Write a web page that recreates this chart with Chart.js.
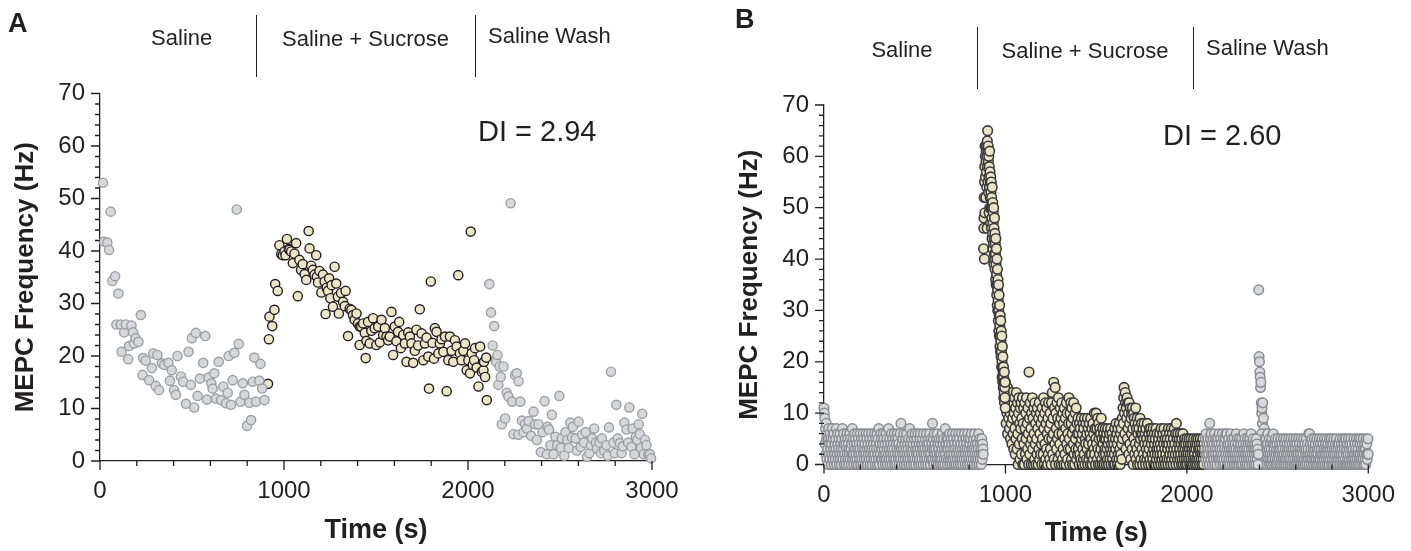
<!DOCTYPE html>
<html><head><meta charset="utf-8">
<script src="https://cdn.jsdelivr.net/npm/chart.js@4.4.0/dist/chart.umd.min.js"></script>
<style>
html,body{margin:0;padding:0;background:#fff;}
#wrap{position:relative;width:1411px;height:551px;overflow:hidden;font-family:'Liberation Sans',Arial,sans-serif;color:#231f20;}
canvas{position:absolute;top:0;}
.t{position:absolute;white-space:nowrap;line-height:1;}
.c{transform:translateX(-50%);}
.vl{position:absolute;width:1.3px;background:#231f20;}
</style></head><body>
<div id="wrap">
<canvas id="cA" width="705" height="551" style="left:0;width:705px;height:551px"></canvas>
<canvas id="cB" width="691" height="551" style="left:720px;width:691px;height:551px"></canvas>

<div class="t" style="left:8px;top:10px;font-size:27px;font-weight:bold">A</div>
<div class="t c" style="left:181.7px;top:27.4px;font-size:22px">Saline</div>
<div class="t c" style="left:365.5px;top:27.9px;font-size:22px">Saline + Sucrose</div>
<div class="t" style="left:488px;top:24.9px;font-size:22px">Saline Wash</div>
<div class="vl" style="left:256px;top:15px;height:62px"></div>
<div class="vl" style="left:474.5px;top:15px;height:62px"></div>
<div class="t" style="left:478px;top:117.2px;font-size:29px">DI = 2.94</div>

<div class="t" style="left:735px;top:6px;font-size:27px;font-weight:bold">B</div>
<div class="t c" style="left:902px;top:39.4px;font-size:22px">Saline</div>
<div class="t c" style="left:1085px;top:39.9px;font-size:22px">Saline + Sucrose</div>
<div class="t" style="left:1206px;top:36.9px;font-size:22px">Saline Wash</div>
<div class="vl" style="left:976.5px;top:27px;height:62px"></div>
<div class="vl" style="left:1192.5px;top:27px;height:62px"></div>
<div class="t" style="left:1163px;top:121px;font-size:29px">DI = 2.60</div>
</div>
<script>
// ---------- tick labels ----------
const xTicks = [0, 1000, 2000, 3000];
const yTicks = [0, 10, 20, 30, 40, 50, 60, 70];
const xMinorStep = 200;
const yMinorStep = 2;

// ---------- Panel A : [time (s), MEPC frequency (Hz)] ----------
const salineA = [[16,53],[22,41.8],[40,41.6],[49,40.2],[58,47.5],[67,34.3],[82,35.2],[89,26],[100,31.9],[113,26],[118,20.8],[131,24.5],[140,26],[153,19.4],[158,21.9],[171,25.8],[180,24.5],[185,22.4],[194,23.4],[209,22.7],[222,27.8],[231,16.4],[234,19.6],[249,19.1],[267,15.4],[282,17.7],[289,20.5],[303,14.3],[312,20.2],[321,13.5],[336,18.6],[349,18.3],[372,18.7],[380,15.3],[390,17.3],[403,13.5],[412,12.6],[421,20],[440,16.1],[452,15.1],[467,10.9],[481,20.8],[494,14.5],[499,23.4],[512,10.2],[521,24.4],[530,12.4],[543,15.7],[561,18.7],[572,23.8],[581,11.7],[590,15.9],[605,14.8],[612,13.8],[621,16.7],[630,11.9],[645,18.9],[658,11.6],[670,14.2],[685,11],[694,13],[699,20],[712,10.7],[721,15.4],[730,20.6],[743,47.9],[754,22.3],[763,11.3],[776,14.8],[785,12.6],[799,6.7],[812,11.1],[821,7.8],[830,15.1],[839,19.7],[848,11.3],[866,15.3],[872,18.5],[881,13.8],[894,11.6]];
const sucroseA = [[913,14.7],[918,23.2],[921,27.5],[936,25.7],[948,28.8],[952,33.7],[966,32.4],[975,41.1],[985,39.4],[994,39.2],[1003,39.9],[1008,39.2],[1016,42.3],[1027,40.4],[1030,40.2],[1039,39.9],[1048,37.7],[1057,39.5],[1066,41.5],[1075,31.4],[1084,38.3],[1093,36.4],[1102,37.5],[1112,35.6],[1121,34.5],[1134,43.8],[1139,40.5],[1148,37.2],[1157,36.4],[1166,35.5],[1175,39.2],[1179,35.1],[1185,34],[1193,36.2],[1203,32.1],[1212,35.5],[1221,34.2],[1226,28],[1232,33],[1239,32.4],[1245,34.8],[1252,31],[1259,33.5],[1266,29.4],[1275,37],[1284,33.8],[1293,31.3],[1298,28.1],[1310,32],[1321,30.3],[1330,29.5],[1335,32.4],[1348,23.8],[1357,29],[1366,28.8],[1375,27.8],[1384,26.9],[1394,28.1],[1402,26.2],[1411,22.1],[1412,25.6],[1420,25.6],[1430,26.2],[1439,24.4],[1444,19.6],[1448,22.9],[1457,26.5],[1466,22.4],[1475,24.8],[1484,27.2],[1493,25.3],[1502,22.1],[1512,25.6],[1521,22.6],[1530,26.9],[1539,24],[1548,25.3],[1557,23.7],[1566,23],[1575,23.7],[1584,28.4],[1593,20.2],[1602,25.6],[1611,22.8],[1620,24.6],[1626,26.5],[1635,21.5],[1648,24],[1657,22.4],[1666,18.9],[1675,24.5],[1684,23.7],[1693,22.4],[1702,18.7],[1711,21],[1720,25],[1729,22],[1738,28.9],[1748,24.3],[1757,19.2],[1766,22.4],[1775,23.5],[1784,19.9],[1788,13.8],[1798,34.2],[1807,22.5],[1815,19.5],[1820,25.3],[1829,24.6],[1839,20.5],[1847,22.4],[1856,23.2],[1866,20.8],[1875,23.7],[1884,13.3],[1893,19.2],[1902,23.7],[1911,21],[1920,18.9],[1929,23],[1938,21.8],[1947,35.4],[1956,20.5],[1965,19.2],[1975,21],[1984,22.4],[1993,17.3],[2002,19.2],[2011,16.7],[2015,43.7],[2020,20.5],[2026,18.3],[2033,19.2],[2038,21.5],[2047,17.8],[2057,14.2],[2066,21.8],[2075,17],[2084,17.3],[2087,18.9],[2093,16],[2099,19.7],[2102,11.6]];
const washA = [[2116,33.7],[2125,28.3],[2134,22],[2142,25.7],[2150,19.2],[2153,18.9],[2160,20.2],[2165,14.5],[2172,18],[2178,16],[2184,7],[2193,18],[2202,8.1],[2210,13],[2220,12.3],[2232,49.1],[2240,11.3],[2247,5.1],[2256,16.4],[2265,16.7],[2274,5],[2275,15.2],[2284,11.3],[2293,7.7],[2302,5.5],[2310,7],[2320,6.2],[2330,7.6],[2343,4.8],[2356,9.4],[2365,7],[2374,4],[2383,7],[2396,1.7],[2405,5.5],[2416,11.4],[2429,1.3],[2432,6.5],[2440,6],[2448,3],[2456,8.8],[2465,1.3],[2475,4.6],[2485,3],[2496,12.4],[2505,2.5],[2510,4.3],[2523,1],[2530,5.5],[2540,4],[2548,2.5],[2556,7.3],[2565,4.5],[2570,6.5],[2585,4.3],[2592,2],[2601,7.5],[2612,2.7],[2620,5],[2630,3.5],[2640,5.5],[2647,0.8],[2660,1.5],[2668,3],[2675,4.3],[2686,6.2],[2695,3.5],[2701,2.4],[2715,3.5],[2722,1.5],[2728,4.3],[2740,2],[2752,3],[2760,1],[2766,6.4],[2777,17],[2790,3.5],[2798,1.5],[2806,10.7],[2814,4.3],[2825,3.4],[2835,1.5],[2842,2.8],[2850,7.3],[2862,6],[2870,3.5],[2877,10.2],[2888,2.7],[2895,6.2],[2905,1.3],[2912,4.6],[2920,4],[2928,7],[2934,5.1],[2940,2.5],[2947,9],[2955,1.3],[2962,4],[2970,3],[2980,1.3],[2989,1.3],[2995,0.5]];

// ---------- Panel B : binned frequencies (Hz), one value per bin ----------
const salineBStart = 0, salineBStep = 2;
const salineB = [11,10,9,4,7,2,8,5,1,6,3,0,5,7,2,4,1,6,3,5,
0,4,2,7,1,5,3,6,0,2,4,1,5,3,7,0,2,6,4,1,
3,5,0,2,6,1,4,3,0,5,2,7,1,3,6,4,0,2,5,1,
4,0,3,6,2,5,1,4,0,3,2,6,1,5,3,0,4,2,7,1,
5,2,0,4,6,1,3,5,2,0,4,1,6,3,0,5,2,4,1,3,
6,0,2,5,1,4,3,0,6,2,5,1,3,4,0,2,6,1,5,3,
0,4,2,6,1,3,5,0,2,4,1,6,3,0,5,2,4,1,3,6,
2,0,5,1,4,3,6,0,2,5,1,7,3,0,4,2,6,1,5,3,
1,4,0,6,2,5,3,1,4,0,2,6,1,5,3,0,4,2,7,1,
3,5,0,2,4,1,6,3,0,5,2,4,1,3,6,0,2,5,1,4,
0,3,6,2,5,1,4,0,3,2,6,1,8,3,0,4,2,5,1,3,
6,0,2,4,1,5,3,0,6,2,4,1,3,5,0,2,7,1,4,3,
0,5,2,6,1,3,4,0,2,5,1,6,3,0,4,2,5,1,3,6,
2,0,4,1,5,3,6,0,2,4,1,5,3,0,6,2,4,1,3,5,
0,2,6,1,4,3,0,5,2,4,1,6,3,0,2,5,1,4,3,8,
1,5,0,3,6,2,4,1,3,0,5,2,6,1,4,0,3,5,2,1,
4,0,2,5,1,3,6,0,4,2,5,1,3,0,7,2,4,1,5,3,
0,3,5,1,4,2,6,0,3,1,5,2,4,0,6,1,3,5,2,0,
4,1,3,6,0,2,5,1,4,3,0,6,2,5,1,3,0,4,2,6,
1,3,0,5,2,4,1,6,3,0,2,5,1,4,3,0,6,2,5,1,
3,0,4,2,5,1,6,3,0,2,4,1,5,3,0,6,2,4,1,3,
5,0,2,4,1,3,6,0,2,5,1,4,3,0,2,5,1,4,3,2];
const peakBStart = 880, peakBStep = 1;
const peakB = [42,46,48,52,40,55,58,49,62,60,56,62,52,59,61,57,62,54,60,46,
63,58,65,61,55,62,59,53,60,56,49,58,54,61,50,57,52,55,47,56,
53,50,55,46,52,48,44,54,50,45,51,42,47,49,43,50,39,46,44,41,
48,40,45,38,43,41,36,44,39,35,42,37,33,40,35,31,38,34,30,36,
32,28,35,30,26,33,29,25,31,27,23,29,25,22,28,24,21,26,22,19,
25,20,17,23,19,16,21,18,15,19,17,13,16,14,18,12,15,13,16,11];
const sucroseBStart = 1000, sucroseBStep = 2;
const sucroseB = [16,12,8,14,10,15,6,11,13,9,14,7,12,10,5,13,8,11,4,14,9,6,12,3,10,
13,7,2,11,5,14,9,3,12,6,0,10,13,4,8,1,11,7,12,2,9,5,13,0,8,
11,4,0,12,7,2,10,5,13,1,8,3,11,6,0,18,9,2,12,4,7,0,10,5,13,
3,9,0,11,6,1,12,4,8,0,10,5,2,11,7,0,9,3,12,1,6,10,2,8,4,
0,11,5,9,2,13,7,0,10,4,12,1,8,3,11,6,0,9,2,12,5,7,1,10,3,
8,0,12,5,14,2,9,6,16,1,11,4,15,0,10,7,3,12,5,9,1,13,6,0,8,
4,11,2,9,0,12,6,1,10,3,8,0,11,5,2,9,7,0,12,4,10,1,6,3,8,
13,5,0,10,3,12,8,1,11,6,0,9,4,12,2,7,0,10,5,3,11,1,8,6,2,
9,3,6,0,8,2,7,4,1,9,5,0,6,3,8,1,7,2,9,0,5,4,8,1,6,
3,9,0,7,4,1,8,2,6,0,9,5,2,7,0,4,8,1,6,3,10,2,7,0,5,
10,4,7,1,9,3,0,8,5,2,7,0,6,3,9,1,5,0,7,4,2,6,0,5,3,
7,2,5,0,6,3,1,7,4,0,5,2,6,1,3,7,0,4,2,6,1,5,3,0,4,
2,7,0,5,3,8,1,6,4,0,7,2,5,1,8,3,0,6,2,7,4,1,9,5,11,
8,13,15,10,6,14,12,3,11,9,13,5,12,7,10,2,12,8,4,11,1,9,6,10,3,
11,7,0,10,5,9,2,8,4,11,1,7,3,9,0,6,8,2,7,4,0,9,5,1,6,
8,3,6,0,7,2,5,8,1,4,6,0,7,3,5,1,8,2,4,0,6,3,7,1,5,
7,0,4,6,2,5,1,7,3,0,6,4,2,5,0,7,1,3,6,2,4,0,5,3,1,
6,2,4,0,7,3,1,5,2,6,0,4,7,1,3,5,0,2,6,4,1,5,3,0,7,
4,1,6,2,5,0,3,7,1,4,6,2,0,5,3,7,1,4,2,6,0,8,3,5,1,
6,2,4,0,5,3,1,6,2,4,0,5,1,3,6,0,2,4,1,5,3,0,4,2,1,
5,0,3,2,4,1,5,3,0,2,4,1,5,0,3,2,4,1,0,5,3,2,1,4,0,
3,5,1,4,0,2,5,3,1,4,0,3,5,2,1,4,0,3,2,5,1,0,4,2,3];
const washBStart = 2100, washBStep = 2;
const washB = [3,5,1,6,2,4,0,3,5,1,2,4,0,8,3,5,1,6,2,4,
0,3,5,2,1,4,6,0,3,2,5,1,4,0,3,5,2,1,4,6,
1,3,0,5,2,4,1,3,6,0,2,5,1,4,3,0,5,2,6,1,
6,3,0,4,2,5,1,3,0,4,2,6,1,3,5,0,2,4,1,3,
5,0,2,4,1,3,6,0,2,5,1,4,3,0,2,5,1,3,4,0,
2,5,1,3,0,4,2,6,1,3,5,0,2,4,1,3,0,5,2,4,
1,3,0,5,2,4,1,6,3,0,2,4,1,5,3,0,2,4,1,3,
0,5,2,4,1,3,0,2];
const spikeBStart = 2396, spikeBStep = 2;
const spikeB = [34,21,20,18,17,15,16,12,10,11,8,12,6,9,5,7,4,6];
const washLateBStart = 2396, washLateBStep = 2;
const washLateB = [2,0,4,1,3,5,0,2,6,1,3,4,0,2,5,1,3,0,4,2,
5,1,3,0,4,6,2,1,3,5,0,2,4,1,3,0,5,2,1,4,
6,0,3,2,4,1,5,0,2,3,4,1,0,5,2,3,1,4,0,2,
3,5,1,0,4,2,3,1,5,0,2,4,1,3,0,5,2,1,4,3,
0,2,5,1,3,4,0,2,1,5,3,0,4,2,1,3,5,0,2,4,
1,3,0,5,2,4,1,0,3,2,5,1,4,0,3,2,1,5,0,3,
4,1,2,0,5,3,1,4,0,2,3,5,1,0,4,2,3,1,6,0,
6,2,4,1,3,0,5,2,1,4,3,0,2,5,1,3,4,0,2,1,
5,3,0,2,4,1,3,5,0,1,4,2,3,0,5,1,2,4,0,3,
1,5,2,0,4,3,1,2,5,0,3,4,1,2,0,5,3,1,4,2,
5,0,3,1,4,2,0,5,3,1,2,4,0,3,5,1,2,0,4,3,
1,4,2,0,5,3,1,2,4,0,3,5,1,2,0,4,3,5,1,0,
5,2,3,0,4,1,2,5,0,3,1,4,2,0,5,3,1,4,0,2,
3,1,5,0,2,4,1,3,0,5,2,1,4,0,3,2,5,1,0,4,
2,5,1,3,0,4,2,1,5,3,0,2,4,1,3,0,5,2,4,1,
2,5,2];

// ---------- helpers ----------
const pairs = arr => arr.map(p => ({x: p[0], y: p[1]}));
const seq = (start, step, vals) => vals.map((v, i) => ({x: start + i * step, y: v}));

const INK = '#231f20';
Chart.defaults.font.family = "'Liberation Sans', Arial, sans-serif";
Chart.defaults.color = INK;

const tickPlugin = {
  id: 'axisTicks',
  afterDraw(chart) {
    const {ctx, chartArea: a, scales: {x, y}} = chart;
    ctx.save();
    ctx.strokeStyle = INK;
    ctx.lineWidth = 1.3;
    ctx.beginPath();
    for (let v = yTicks[0]; v <= yTicks[yTicks.length - 1]; v += yMinorStep) {
      const py = y.getPixelForValue(v);
      const L = yTicks.includes(v) ? 9 : 5;
      ctx.moveTo(a.left, py); ctx.lineTo(a.left - L, py);
    }
    for (let t = xTicks[0]; t <= xTicks[xTicks.length - 1]; t += xMinorStep) {
      const px = x.getPixelForValue(t);
      const L = xTicks.includes(t) ? 9 : 5;
      ctx.moveTo(px, a.bottom); ctx.lineTo(px, a.bottom + L);
    }
    ctx.stroke();
    ctx.restore();
  }
};

function ds(data, fill, stroke, bw, r) {
  return {data, backgroundColor: fill, borderColor: stroke, borderWidth: bw,
          pointRadius: r, pointHoverRadius: r, showLine: false, clip: false};
}

function makeChart(id, datasets, g) {
  return new Chart(document.getElementById(id), {
    type: 'scatter',
    data: {datasets},
    plugins: [tickPlugin],
    options: {
      responsive: false, animation: false, events: [],
      layout: {padding: {left: 0, right: g.padR, top: g.padT, bottom: 0}},
      plugins: {legend: {display: false}, tooltip: {enabled: false}},
      scales: {
        x: {
          type: 'linear', min: xTicks[0], max: xTicks[xTicks.length - 1],
          afterBuildTicks: s => { s.ticks = xTicks.map(v => ({value: v})); },
          ticks: {font: {size: 24}, color: INK, padding: 16, maxRotation: 0, autoSkip: false,
                  callback: v => String(v)},
          grid: {display: false, drawTicks: false},
          border: {display: true, color: INK, width: 1.3},
          title: {display: true, text: 'Time (s)', color: INK, font: {size: 27, weight: 'bold'},
                  padding: {top: 0, bottom: g.xTitlePad}},
          afterFit: s => { s.height = g.xH; }
        },
        y: {
          type: 'linear', min: yTicks[0], max: yTicks[yTicks.length - 1],
          afterBuildTicks: s => { s.ticks = yTicks.map(v => ({value: v})); },
          ticks: {font: {size: 24}, color: INK, padding: 15, autoSkip: false,
                  callback: v => String(v)},
          grid: {display: false, drawTicks: false},
          border: {display: true, color: INK, width: 1.3},
          title: {display: true, text: 'MEPC Frequency (Hz)', color: INK, font: {size: 26, weight: 'bold'},
                  padding: {top: g.yTitlePad, bottom: 0}},
          afterFit: s => { s.width = g.yW; }
        }
      }
    }
  });
}

const GREY_A = '#d6d7db', GREY_A_LINE = '#9d9ea4';
const BEIGE_A = '#ece6c9', BEIGE_A_LINE = '#231f20';
const GREY_B = '#d8d9dc', GREY_B_LINE = '#8a8b91';
const BEIGE_B = '#e9e4c6', BEIGE_B_LINE = '#3a3a3a';

makeChart('cA', [
  ds(pairs(salineA), GREY_A, GREY_A_LINE, 1.4, 4.6),
  ds(pairs(sucroseA), BEIGE_A, BEIGE_A_LINE, 1.4, 4.6),
  ds(pairs(washA), GREY_A, GREY_A_LINE, 1.4, 4.6)
], {padR: 53, padT: 93.5, xH: 90, yW: 100, xTitlePad: 4.3, yTitlePad: 10.4});

makeChart('cB', [
  ds(seq(salineBStart, salineBStep, salineB), GREY_B, GREY_B_LINE, 1.5, 4.8),
  ds(seq(washBStart, washBStep, washB), GREY_B, GREY_B_LINE, 1.5, 4.8),
  ds(seq(washLateBStart, washLateBStep, washLateB), GREY_B, GREY_B_LINE, 1.5, 4.8),
  ds(seq(spikeBStart, spikeBStep, spikeB), GREY_B, GREY_B_LINE, 1.5, 4.8),
  ds(seq(peakBStart, peakBStep, peakB), BEIGE_B, BEIGE_B_LINE, 1.6, 4.8),
  ds(seq(sucroseBStart, sucroseBStep, sucroseB), BEIGE_B, BEIGE_B_LINE, 1.6, 4.8)
], {padR: 42, padT: 105, xH: 86.5, yW: 104, xTitlePad: 0.8, yTitlePad: 14.4});
</script>
</body></html>
